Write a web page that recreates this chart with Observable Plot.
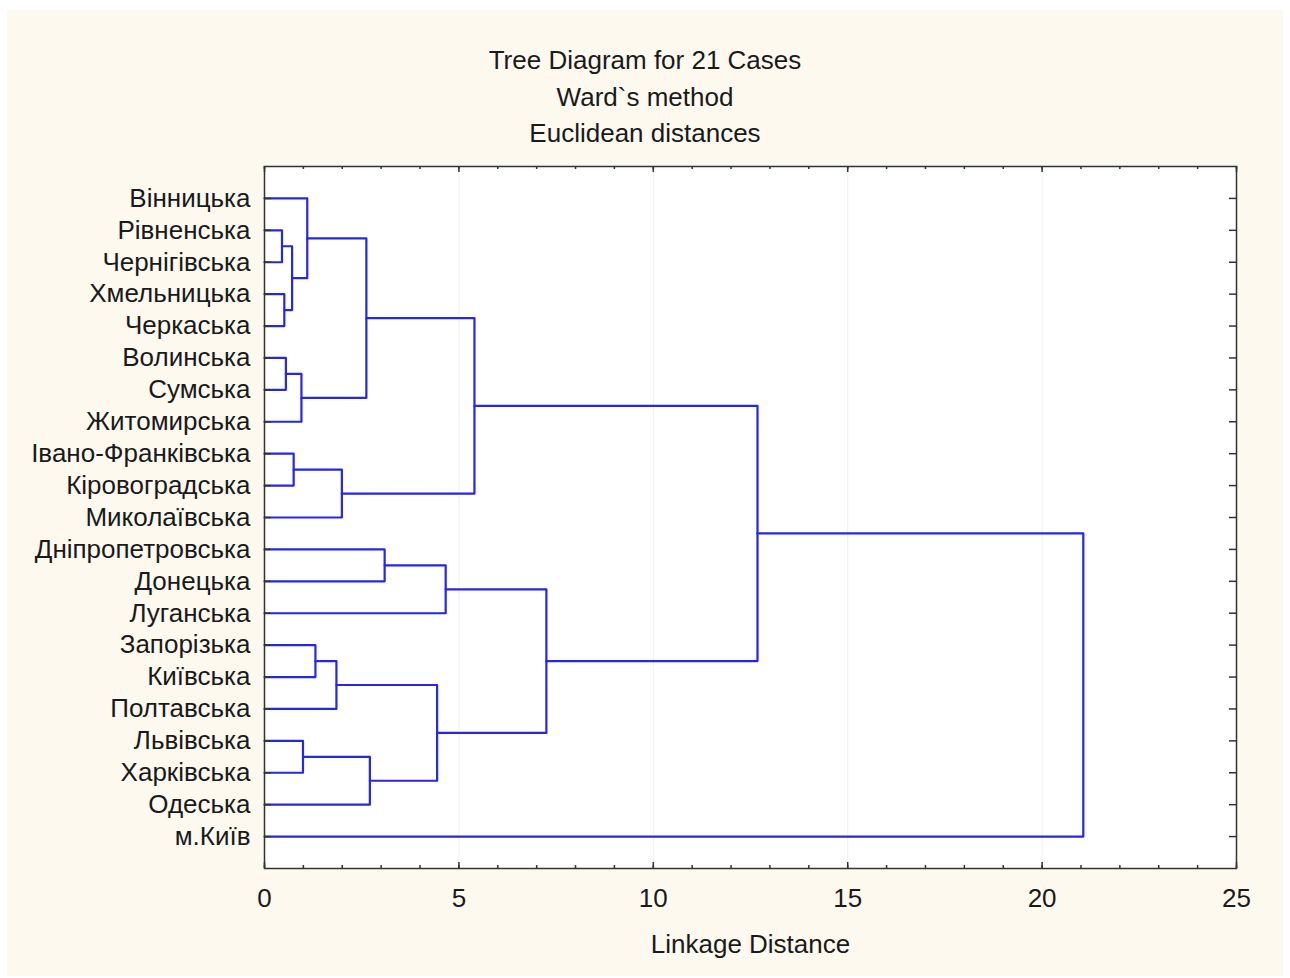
<!DOCTYPE html>
<html>
<head>
<meta charset="utf-8">
<script src="https://cdn.jsdelivr.net/npm/d3@7"></script>
<script src="https://cdn.jsdelivr.net/npm/@observablehq/plot@0.6"></script>
<style>
  html, body { margin: 0; padding: 0; background: #ffffff; }
  #panel { position: absolute; left: 7px; top: 10px; width: 1276px; height: 966px; background: #fdf9ef; }
  #title { position: absolute; left: 0; top: 32px; width: 100%; text-align: center;
           font-family: "Liberation Sans", Arial, sans-serif; font-size: 26px; line-height: 36.5px; color: #1a1a1a; }
  #chart { position: absolute; left: 0; top: 0; }
</style>
</head>
<body>
<div id="panel">
  <div id="title"><div>Tree Diagram for 21 Cases</div><div>Ward`s method</div><div>Euclidean distances</div></div>
  <div id="chart"></div>
</div>
<script>
// Cases (leaf order, top to bottom)
const cases = [
  "Вінницька", "Рівненська", "Чернігівська", "Хмельницька", "Черкаська",
  "Волинська", "Сумська", "Житомирська", "Івано-Франківська", "Кіровоградська",
  "Миколаївська", "Дніпропетровська", "Донецька", "Луганська", "Запорізька",
  "Київська", "Полтавська", "Львівська", "Харківська", "Одеська", "м.Київ"
];
// Merges: node ids 0..20 are leaves, merge k creates node 21+k
const mergeLeft   = [1, 3, 21, 0, 5, 25, 24, 8, 28, 27, 11, 31, 14, 33, 17, 35, 34, 32, 30, 39];
const mergeRight  = [2, 4, 22, 23, 6, 7, 26, 9, 10, 29, 12, 13, 15, 16, 18, 19, 36, 37, 38, 20];
const mergeHeight = [0.45, 0.51, 0.71, 1.10, 0.55, 0.95, 2.62, 0.75, 1.99, 5.40, 3.09, 4.66, 1.31, 1.85, 0.99, 2.71, 4.44, 7.25, 12.68, 21.06];
const xTicksMajor = [0, 5, 10, 15, 20, 25];
const xTicksMinor = d3.range(0, 26, 1);
const xGrid = [5, 10, 15, 20];

// build node positions & connector paths
const nodeY = cases.map((_, i) => i);
const nodeH = cases.map(() => 0);
const segs = [];
mergeLeft.forEach((l, k) => {
  const r = mergeRight[k], h = mergeHeight[k];
  const yl = nodeY[l], yr = nodeY[r];
  segs.push({id: k, x: nodeH[l], y: yl}, {id: k, x: h, y: yl}, {id: k, x: h, y: yr}, {id: k, x: nodeH[r], y: yr});
  nodeY.push((yl + yr) / 2);
  nodeH.push(h);
});
const rows = cases.map((_, i) => i);

const W = 1276, H = 966;
const mL = 257, mR = 47, mT = 156, mB = 108;
const fw = W - mL - mR, fh = H - mT - mB;
const font = "Liberation Sans, Arial, sans-serif";

const chart = Plot.plot({
  width: W, height: H,
  marginLeft: mL, marginRight: mR, marginTop: mT, marginBottom: mB,
  style: {background: "transparent", fontFamily: font, color: "#1a1a1a"},
  x: {domain: [0, 25], label: null},
  y: {domain: [-1, 21], reverse: true, label: null},
  marks: [
    Plot.frame({fill: "white", stroke: null}),
    Plot.ruleX(xGrid, {stroke: "#efefef", strokeWidth: 1}),
    Plot.line(segs, {x: "x", y: "y", z: "id", stroke: "#2626e6", strokeWidth: 2.2, curve: "linear"}),
    // inward ticks, left & right
    Plot.tickY(rows, {y: d => d, stroke: "#333", strokeWidth: 1.5, insetRight: fw - 7}),
    Plot.tickY(rows, {y: d => d, stroke: "#333", strokeWidth: 1.5, insetLeft: fw - 7}),
    // inward ticks, bottom & top
    Plot.tickX(xTicksMinor, {x: d => d, stroke: "#333", strokeWidth: 1.5, insetTop: fh - 3}),
    Plot.tickX(xTicksMinor, {x: d => d, stroke: "#333", strokeWidth: 1.5, insetBottom: fh - 3}),
    Plot.tickX(xTicksMajor, {x: d => d, stroke: "#333", strokeWidth: 1.5, insetTop: fh - 6}),
    Plot.tickX(xTicksMajor, {x: d => d, stroke: "#333", strokeWidth: 1.5, insetBottom: fh - 6}),
    Plot.frame({stroke: "#333", strokeWidth: 1.5}),
    Plot.axisY({ticks: rows, tickFormat: i => cases[i], tickSize: 0, tickPadding: 14, fontSize: 26, label: null}),
    Plot.axisX({ticks: xTicksMajor, tickSize: 0, tickPadding: 20, fontSize: 26, label: null}),
    Plot.text(["Linkage Distance"], {text: d => d, frameAnchor: "bottom", dy: 76, fontSize: 26, lineAnchor: "middle"})
  ]
});
document.getElementById("chart").appendChild(chart);
</script>
</body>
</html>
